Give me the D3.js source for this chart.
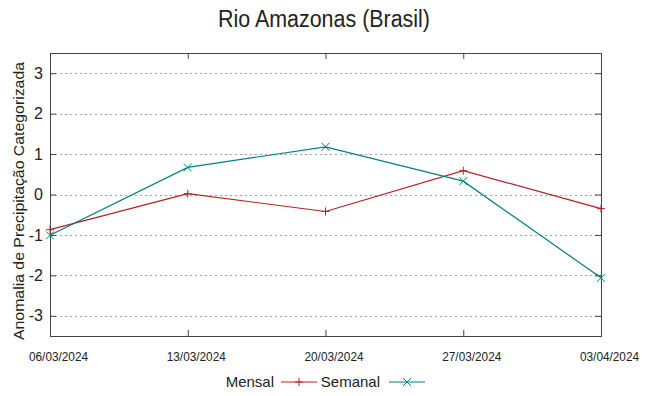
<!DOCTYPE html>
<html>
<head>
<meta charset="utf-8">
<script src="https://cdn.jsdelivr.net/npm/d3@7"></script>
<style>
  body { margin: 0; background: #fff; }
  text { font-family: "Liberation Sans", Arial, sans-serif; fill: #222; }
</style>
</head>
<body>
<div id="chart"></div>
<script>
// dates on the x axis
const dates = ["06/03/2024", "13/03/2024", "20/03/2024", "27/03/2024", "03/04/2024"];
// series values
const mensal = [-0.87, 0.02, -0.42, 0.59, -0.35];
const semanal = [-1.01, 0.67, 1.18, 0.33, -2.06];
const yTicks = [-3, -2, -1, 0, 1, 2, 3];

const width = 649, height = 396;
const margin = { top: 53, right: 48, bottom: 60, left: 50 };

const svg = d3.select("#chart").append("svg")
    .attr("width", width)
    .attr("height", height);

const x = d3.scalePoint()
    .domain(dates)
    .range([margin.left, width - margin.right]);

const y = d3.scaleLinear()
    .domain([-3.5, 3.5])
    .range([height - margin.bottom, margin.top]);

// grid (horizontal dotted lines only)
svg.append("g")
    .selectAll("line")
    .data(yTicks)
    .join("line")
    .attr("x1", margin.left)
    .attr("x2", width - margin.right)
    .attr("y1", d => Math.round(y(d)) + 0.5)
    .attr("y2", d => Math.round(y(d)) + 0.5)
    .attr("stroke", "#a0a0a0")
    .attr("stroke-dasharray", "2,3");

// y axis on the left, ticks pointing inward
const yAxis = svg.append("g")
    .attr("transform", `translate(${margin.left},0)`)
    .call(d3.axisLeft(y).tickValues(yTicks).tickSize(-6).tickPadding(7).tickFormat(d => String(d)));
yAxis.select(".domain").remove();
yAxis.selectAll("text").attr("font-size", 16).style("font-family", "Liberation Sans, Arial, sans-serif").attr("fill", "#333");
yAxis.selectAll("line").attr("stroke", "#444");

// mirror ticks on the right
const yAxisR = svg.append("g")
    .attr("transform", `translate(${width - margin.right},0)`)
    .call(d3.axisRight(y).tickValues(yTicks).tickSize(-6).tickFormat(""));
yAxisR.select(".domain").remove();
yAxisR.selectAll("line").attr("stroke", "#444");

// x axis at the bottom
const xAxis = svg.append("g")
    .attr("transform", `translate(0,${height - margin.bottom})`)
    .call(d3.axisBottom(x).tickSize(-6).tickPadding(16));
xAxis.select(".domain").remove();
xAxis.selectAll("text")
    .attr("font-size", 12.5)
    .attr("dx", 8)
    .attr("textLength", 59)
    .attr("lengthAdjust", "spacingAndGlyphs")
    .style("font-family", "Liberation Sans, Arial, sans-serif")
    .attr("fill", "#333");
xAxis.selectAll("line").attr("stroke", "#444");

const xAxisT = svg.append("g")
    .attr("transform", `translate(0,${margin.top})`)
    .call(d3.axisTop(x).tickSize(-6).tickFormat(""));
xAxisT.select(".domain").remove();
xAxisT.selectAll("line").attr("stroke", "#444");

// frame
svg.append("rect")
    .attr("x", margin.left + 0.5)
    .attr("y", margin.top + 0.5)
    .attr("width", width - margin.left - margin.right)
    .attr("height", height - margin.top - margin.bottom)
    .attr("fill", "none")
    .attr("stroke", "#444");

const line = d3.line()
    .x((d, i) => x(dates[i]))
    .y(d => y(d));

const series = [
    { name: "Mensal", values: mensal, color: "#b22222", marker: "plus" },
    { name: "Semanal", values: semanal, color: "#008080", marker: "cross" }
];

function drawMarker(g, type, cx, cy, color) {
    const s = 4;
    if (type === "plus") {
        g.append("path").attr("d", `M${cx - s},${cy}H${cx + s}M${cx},${cy - s}V${cy + s}`)
            .attr("stroke", color).attr("stroke-width", 1);
    } else {
        g.append("path").attr("d", `M${cx - s},${cy - s}L${cx + s},${cy + s}M${cx - s},${cy + s}L${cx + s},${cy - s}`)
            .attr("stroke", color).attr("stroke-width", 1);
    }
}

series.forEach(s => {
    svg.append("path")
        .datum(s.values)
        .attr("d", line)
        .attr("fill", "none")
        .attr("stroke", s.color)
        .attr("stroke-width", 1.2);
    const g = svg.append("g");
    s.values.forEach((v, i) => drawMarker(g, s.marker, x(dates[i]), y(v), s.color));
});

// title
svg.append("text")
    .attr("x", 324)
    .attr("y", 27)
    .attr("text-anchor", "middle")
    .attr("font-size", 23)
    .attr("textLength", 212)
    .attr("lengthAdjust", "spacingAndGlyphs")
    .text("Rio Amazonas (Brasil)");

// y label
svg.append("text")
    .attr("transform", "translate(24,201) rotate(-90)")
    .attr("text-anchor", "middle")
    .attr("font-size", 15.5)
    .attr("textLength", 278)
    .attr("lengthAdjust", "spacingAndGlyphs")
    .text("Anomalia de Precipitação Categorizada");

// legend
const legendY = 382;
const legend = [
    { s: series[0], textX: 274, lineX: 281 },
    { s: series[1], textX: 380, lineX: 389 }
];
legend.forEach(l => {
    svg.append("text")
        .attr("x", l.textX)
        .attr("y", legendY + 5)
        .attr("text-anchor", "end")
        .attr("font-size", 15)
        .text(l.s.name);
    svg.append("line")
        .attr("x1", l.lineX).attr("x2", l.lineX + 36)
        .attr("y1", legendY).attr("y2", legendY)
        .attr("stroke", l.s.color).attr("stroke-width", 1.2);
    drawMarker(svg, l.s.marker, l.lineX + 18, legendY, l.s.color);
});
</script>
</body>
</html>
